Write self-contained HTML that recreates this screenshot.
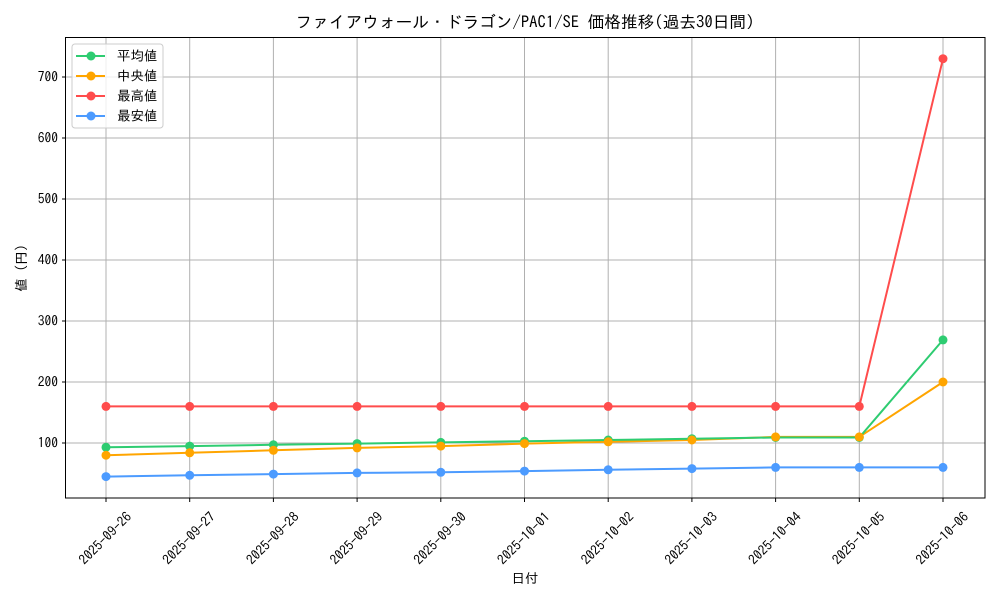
<!DOCTYPE html><html><head><meta charset="utf-8"><style>body{margin:0;background:#fff}svg{display:block}text{font-family:"IPAGothic","Noto Sans CJK JP",monospace;fill:#000}</style></head><body>
<svg width="1000" height="600" xmlns="http://www.w3.org/2000/svg">
<rect width="1000" height="600" fill="#fff"/>
<g stroke="#b0b0b0" stroke-width="1">
<line x1="106" y1="38" x2="106" y2="498"/><line x1="189.7" y1="38" x2="189.7" y2="498"/><line x1="273.4" y1="38" x2="273.4" y2="498"/><line x1="357.1" y1="38" x2="357.1" y2="498"/><line x1="440.8" y1="38" x2="440.8" y2="498"/><line x1="524.5" y1="38" x2="524.5" y2="498"/><line x1="608.2" y1="38" x2="608.2" y2="498"/><line x1="691.9" y1="38" x2="691.9" y2="498"/><line x1="775.6" y1="38" x2="775.6" y2="498"/><line x1="859.3" y1="38" x2="859.3" y2="498"/><line x1="943" y1="38" x2="943" y2="498"/>
<line x1="66" y1="443" x2="985" y2="443"/><line x1="66" y1="382" x2="985" y2="382"/><line x1="66" y1="321" x2="985" y2="321"/><line x1="66" y1="260" x2="985" y2="260"/><line x1="66" y1="199" x2="985" y2="199"/><line x1="66" y1="138" x2="985" y2="138"/><line x1="66" y1="77" x2="985" y2="77"/>
</g>
<g stroke="#000" stroke-width="1">
<line x1="62" y1="443" x2="66" y2="443"/><line x1="62" y1="382" x2="66" y2="382"/><line x1="62" y1="321" x2="66" y2="321"/><line x1="62" y1="260" x2="66" y2="260"/><line x1="62" y1="199" x2="66" y2="199"/><line x1="62" y1="138" x2="66" y2="138"/><line x1="62" y1="77" x2="66" y2="77"/>
<line x1="106" y1="498" x2="106" y2="502"/><line x1="189.7" y1="498" x2="189.7" y2="502"/><line x1="273.4" y1="498" x2="273.4" y2="502"/><line x1="357.1" y1="498" x2="357.1" y2="502"/><line x1="440.8" y1="498" x2="440.8" y2="502"/><line x1="524.5" y1="498" x2="524.5" y2="502"/><line x1="608.2" y1="498" x2="608.2" y2="502"/><line x1="691.9" y1="498" x2="691.9" y2="502"/><line x1="775.6" y1="498" x2="775.6" y2="502"/><line x1="859.3" y1="498" x2="859.3" y2="502"/><line x1="943" y1="498" x2="943" y2="502"/>
</g>
<g font-size="13.5" text-anchor="end">
<text x="58" y="447.5">100</text><text x="58" y="386.5">200</text><text x="58" y="325.5">300</text><text x="58" y="264.5">400</text><text x="58" y="203.5">500</text><text x="58" y="142.5">600</text><text x="58" y="81.5">700</text>
</g>
<g font-size="13.5" text-anchor="middle" dominant-baseline="central">
<text transform="translate(105,538) rotate(-45)">2025-09-26</text>
<text transform="translate(188.7,538) rotate(-45)">2025-09-27</text>
<text transform="translate(272.4,538) rotate(-45)">2025-09-28</text>
<text transform="translate(356.1,538) rotate(-45)">2025-09-29</text>
<text transform="translate(439.8,538) rotate(-45)">2025-09-30</text>
<text transform="translate(523.5,538) rotate(-45)">2025-10-01</text>
<text transform="translate(607.2,538) rotate(-45)">2025-10-02</text>
<text transform="translate(690.9,538) rotate(-45)">2025-10-03</text>
<text transform="translate(774.6,538) rotate(-45)">2025-10-04</text>
<text transform="translate(858.3,538) rotate(-45)">2025-10-05</text>
<text transform="translate(942,538) rotate(-45)">2025-10-06</text>
</g>
<text x="525" y="583" font-size="13.5" text-anchor="middle">日付</text>
<text transform="translate(26,268) rotate(-90)" font-size="13.5" text-anchor="middle">値 (円)</text>
<text x="525" y="28" font-size="16.7" text-anchor="middle">ファイアウォール・ドラゴン/PAC1/SE 価格推移(過去30日間)</text>
<g fill="none" stroke-width="2">
<polyline stroke="#ff4c4c" points="106,406.4 189.7,406.4 273.4,406.4 357.1,406.4 440.8,406.4 524.5,406.4 608.2,406.4 691.9,406.4 775.6,406.4 859.3,406.4 943,58.7"/>
<polyline stroke="#ffa500" points="106,455.2 189.7,452.8 273.4,450.3 357.1,447.9 440.8,446.1 524.5,443.6 608.2,441.8 691.9,440 775.6,436.9 859.3,436.9 943,382"/>
<polyline stroke="#2ecc71" points="106,447.3 189.7,446.1 273.4,444.8 357.1,443.6 440.8,442.4 524.5,441.2 608.2,440 691.9,438.7 775.6,437.5 859.3,437.5 943,339.9"/>
<polyline stroke="#4c9bff" points="106,476.6 189.7,475.3 273.4,474.1 357.1,472.9 440.8,472.3 524.5,471.1 608.2,469.8 691.9,468.6 775.6,467.4 859.3,467.4 943,467.4"/>
</g>
<g fill="#2ecc71"><circle cx="106" cy="447.3" r="4.5"/><circle cx="189.7" cy="446.1" r="4.5"/><circle cx="273.4" cy="444.8" r="4.5"/><circle cx="357.1" cy="443.6" r="4.5"/><circle cx="440.8" cy="442.4" r="4.5"/><circle cx="524.5" cy="441.2" r="4.5"/><circle cx="608.2" cy="440" r="4.5"/><circle cx="691.9" cy="438.7" r="4.5"/><circle cx="775.6" cy="437.5" r="4.5"/><circle cx="859.3" cy="437.5" r="4.5"/><circle cx="943" cy="339.9" r="4.5"/></g>
<g fill="#ffa500"><circle cx="106" cy="455.2" r="4.5"/><circle cx="189.7" cy="452.8" r="4.5"/><circle cx="273.4" cy="450.3" r="4.5"/><circle cx="357.1" cy="447.9" r="4.5"/><circle cx="440.8" cy="446.1" r="4.5"/><circle cx="524.5" cy="443.6" r="4.5"/><circle cx="608.2" cy="441.8" r="4.5"/><circle cx="691.9" cy="440" r="4.5"/><circle cx="775.6" cy="436.9" r="4.5"/><circle cx="859.3" cy="436.9" r="4.5"/><circle cx="943" cy="382" r="4.5"/></g>
<g fill="#ff4c4c"><circle cx="106" cy="406.4" r="4.5"/><circle cx="189.7" cy="406.4" r="4.5"/><circle cx="273.4" cy="406.4" r="4.5"/><circle cx="357.1" cy="406.4" r="4.5"/><circle cx="440.8" cy="406.4" r="4.5"/><circle cx="524.5" cy="406.4" r="4.5"/><circle cx="608.2" cy="406.4" r="4.5"/><circle cx="691.9" cy="406.4" r="4.5"/><circle cx="775.6" cy="406.4" r="4.5"/><circle cx="859.3" cy="406.4" r="4.5"/><circle cx="943" cy="58.7" r="4.5"/></g>
<g fill="#4c9bff"><circle cx="106" cy="476.6" r="4.5"/><circle cx="189.7" cy="475.3" r="4.5"/><circle cx="273.4" cy="474.1" r="4.5"/><circle cx="357.1" cy="472.9" r="4.5"/><circle cx="440.8" cy="472.3" r="4.5"/><circle cx="524.5" cy="471.1" r="4.5"/><circle cx="608.2" cy="469.8" r="4.5"/><circle cx="691.9" cy="468.6" r="4.5"/><circle cx="775.6" cy="467.4" r="4.5"/><circle cx="859.3" cy="467.4" r="4.5"/><circle cx="943" cy="467.4" r="4.5"/></g>
<rect x="65.5" y="37.5" width="919.5" height="460.5" fill="none" stroke="#000" stroke-width="1"/>
<rect x="72" y="44" width="91" height="84" rx="3" fill="#fff" fill-opacity="0.8" stroke="#ccc"/>
<g stroke-width="2"><line x1="76" y1="56" x2="105" y2="56" stroke="#2ecc71"/><line x1="76" y1="76" x2="105" y2="76" stroke="#ffa500"/><line x1="76" y1="96" x2="105" y2="96" stroke="#ff4c4c"/><line x1="76" y1="116" x2="105" y2="116" stroke="#4c9bff"/></g>
<circle cx="91" cy="56" r="4.5" fill="#2ecc71"/><circle cx="91" cy="76" r="4.5" fill="#ffa500"/><circle cx="91" cy="96" r="4.5" fill="#ff4c4c"/><circle cx="91" cy="116" r="4.5" fill="#4c9bff"/>
<g font-size="13.5"><text x="117" y="60.5">平均値</text><text x="117" y="80.5">中央値</text><text x="117" y="100.5">最高値</text><text x="117" y="120.5">最安値</text></g>
</svg>
</body></html>
